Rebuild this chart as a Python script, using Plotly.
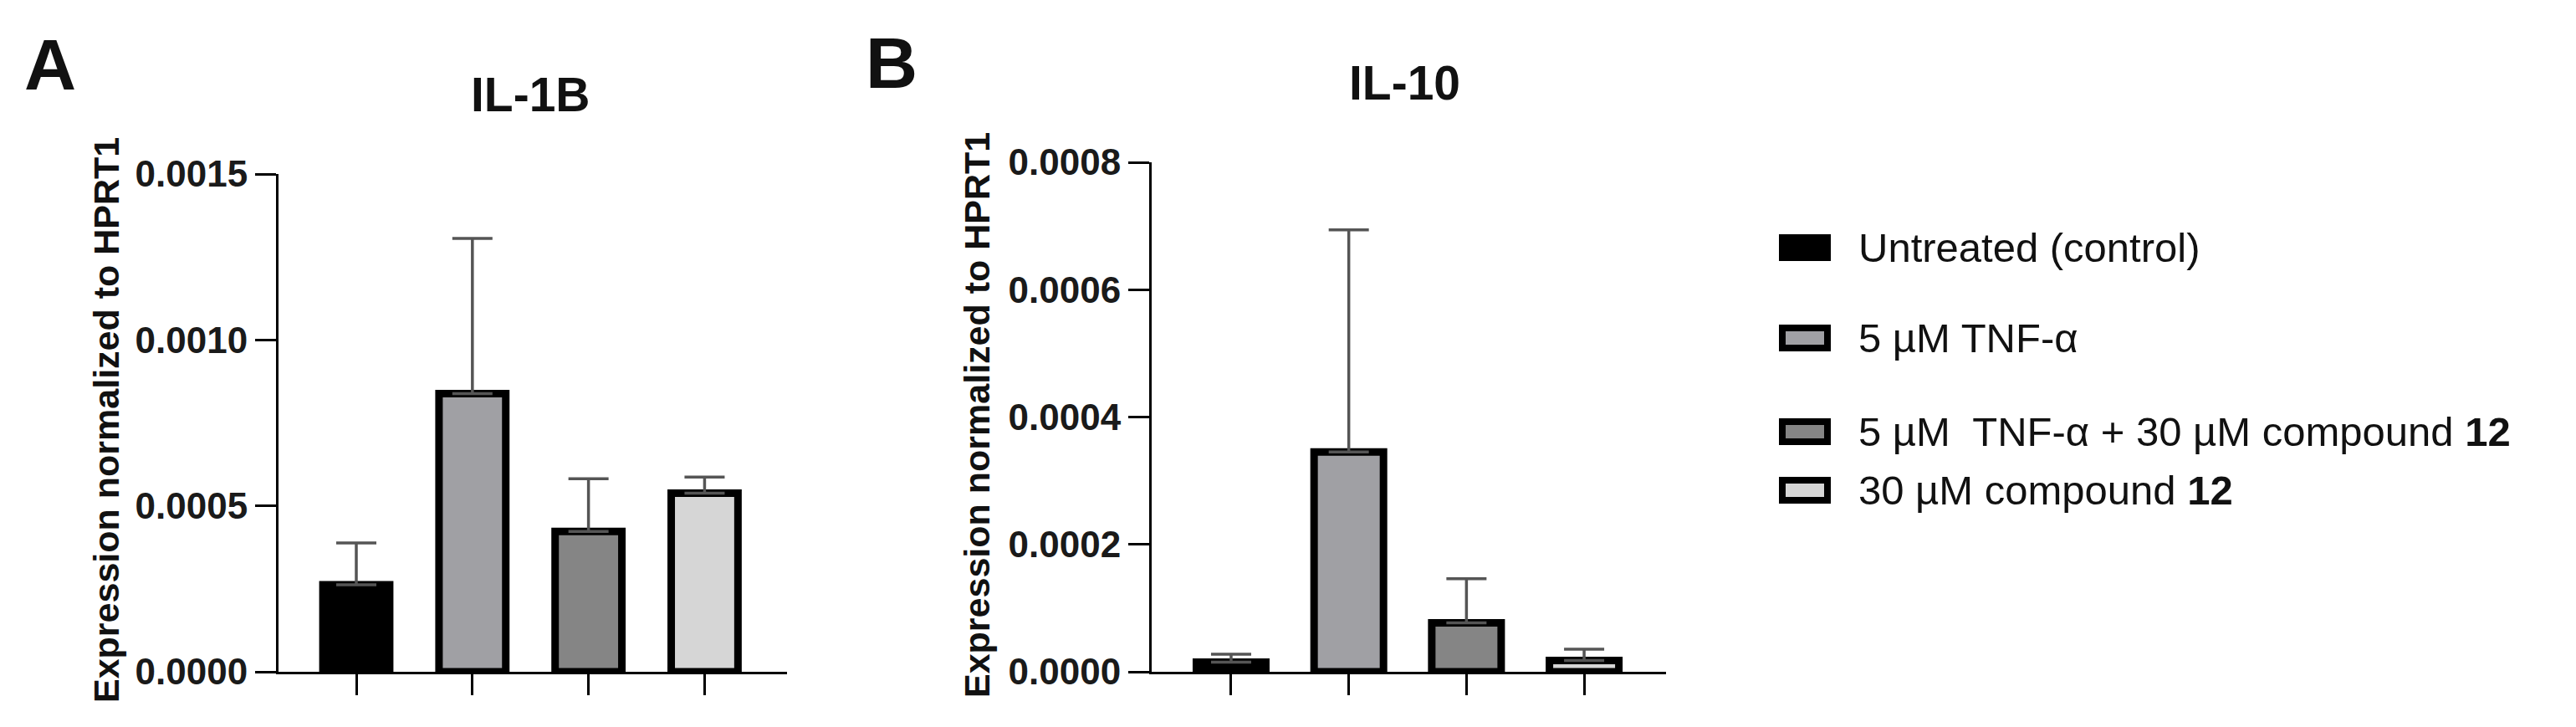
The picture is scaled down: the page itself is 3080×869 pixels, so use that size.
import plotly.graph_objects as go
from plotly.subplots import make_subplots


# ---------------------------------
# DATA
# ---------------------------------

groups = [
    "Untreated (control)",
    "5 µM TNF-α",
    "5 µM\u00a0 TNF-α + 30 µM compound <b>12</b>",
    "30 µM compound <b>12</b>",
]

bar_colors = ["#000000", "#a0a0a4", "#858585", "#d6d6d6"]

il1b_mean = [0.000262, 0.000838, 0.000423, 0.000538]
il1b_err = [0.000126, 0.000468, 0.000159, 0.000049]

il10_mean = [0.0000151, 0.000345, 0.000077, 0.0000178]
il10_err = [0.0000125, 0.000349, 0.000069, 0.0000177]

il1b_ticks = [0.0, 0.0005, 0.0010, 0.0015]
il10_ticks = [0.0, 0.0002, 0.0004, 0.0006, 0.0008]


# ---------------------------------
# CANVAS
# ---------------------------------

W = 3080
H = 869
PAGE_PAD = 8          # default body margin of the html page
FONT = "Arial, Liberation Sans, sans-serif"


def px_x(v):
    return (v - PAGE_PAD) / W


def px_y(v):
    return 1 - (v - PAGE_PAD) / H


fig = make_subplots(rows=1, cols=2)

positions = [0, 1, 2, 3]

for col, means, errs, bar_w in [
    (1, il1b_mean, il1b_err, 0.575),
    (2, il10_mean, il10_err, 0.59),
]:
    fig.add_trace(
        go.Bar(
            x=positions,
            y=means,
            width=bar_w,
            marker=dict(
                color=bar_colors,
                line=dict(color="#000000", width=9)
            ),
            error_y=dict(
                type="data",
                symmetric=False,
                array=errs,
                arrayminus=[0, 0, 0, 0],
                color="#555555",
                thickness=3.5,
                width=24
            ),
            showlegend=False,
            hoverinfo="skip"
        ),
        row=1,
        col=col
    )


# ---------------------------------
# AXES
# ---------------------------------

axis_common = dict(
    showline=True,
    linecolor="#000000",
    linewidth=3,
    ticks="outside",
    ticklen=25,
    tickwidth=3,
    tickcolor="#000000",
    showgrid=False,
    zeroline=False,
    automargin=False,
)

fig.update_xaxes(
    **axis_common,
    tickvals=positions,
    showticklabels=False,
)

fig.update_xaxes(domain=[px_x(333), px_x(941)], range=[-0.67, 3.71], row=1, col=1)
fig.update_xaxes(domain=[px_x(1377), px_x(1992)], range=[-0.675, 3.696], row=1, col=2)

fig.update_yaxes(
    **axis_common,
    tickformat=".4f",
    tickfont=dict(family=FONT, size=44, color="#1a1a1a", weight="bold"),
)

fig.update_yaxes(
    domain=[px_y(803), px_y(208)],
    range=[0, 0.0015],
    tickvals=il1b_ticks,
    row=1, col=1
)
fig.update_yaxes(
    domain=[px_y(803), px_y(194)],
    range=[0, 0.0008],
    tickvals=il10_ticks,
    row=1, col=2
)


# ---------------------------------
# TEXT
# ---------------------------------

annotations = []


def add_text(text, x, y, size, bold=False, angle=0, xanchor="center"):
    annotations.append(dict(
        text=text,
        x=px_x(x),
        y=px_y(y),
        xref="paper",
        yref="paper",
        xanchor=xanchor,
        yanchor="middle",
        textangle=angle,
        showarrow=False,
        font=dict(
            family=FONT,
            size=size,
            color="#111111",
            weight="bold" if bold else "normal"
        )
    ))


add_text("A", 60, 77, 86, bold=True)
add_text("B", 1066, 75, 86, bold=True)

add_text("IL-1B", 634, 113, 57, bold=True)
add_text("IL-10", 1679, 99, 57, bold=True)

add_text("Expression normalized to HPRT1", 127, 502, 43, bold=True, angle=-90)
add_text("Expression normalized to HPRT1", 1168, 496, 43, bold=True, angle=-90)


# ---------------------------------
# LEGEND (drawn by hand, uneven spacing)
# ---------------------------------

legend_y = [296, 404, 516, 586]
shapes = []

for label, color, yc in zip(groups, bar_colors, legend_y):
    shapes.append(dict(
        type="rect",
        xref="paper",
        yref="paper",
        x0=px_x(2131),
        x1=px_x(2185),
        y0=px_y(yc + 12),
        y1=px_y(yc - 12),
        fillcolor=color,
        line=dict(color="#000000", width=8)
    ))
    add_text(label, 2220, yc, 49, xanchor="left")


fig.update_layout(
    width=W,
    height=H,
    autosize=False,
    margin=dict(l=0, r=0, t=0, b=0, pad=0),
    paper_bgcolor="#ffffff",
    plot_bgcolor="#ffffff",
    showlegend=False,
    font=dict(family=FONT, color="#111111"),
    annotations=annotations,
    shapes=shapes,
)

fig.write_html("out.html")
